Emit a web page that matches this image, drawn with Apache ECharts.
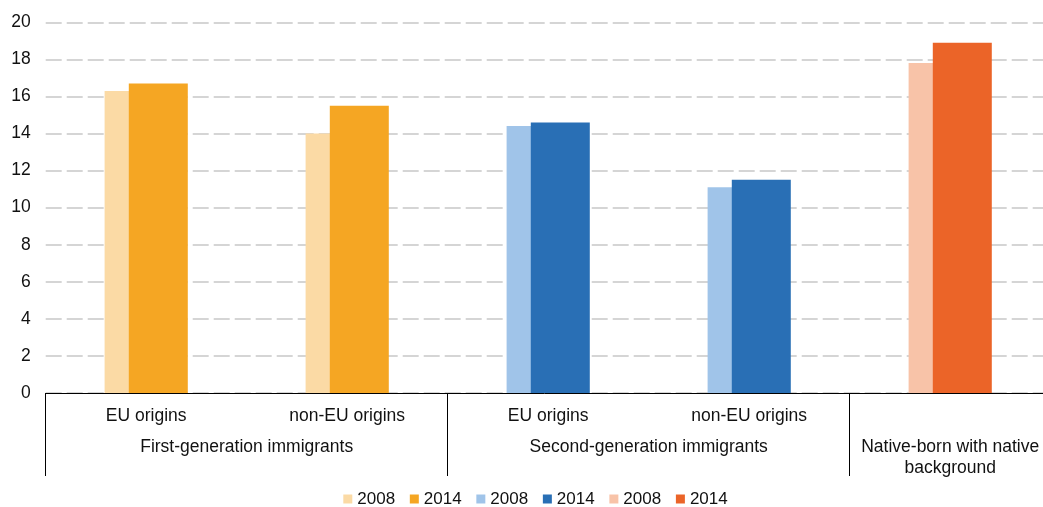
<!DOCTYPE html>
<html>
<head>
<meta charset="utf-8">
<script src="https://cdn.jsdelivr.net/npm/echarts@6/dist/echarts.min.js"></script>
<style>
html,body{margin:0;padding:0;background:#fff;}
#chart{width:1043px;height:507px;}
</style>
</head>
<body>
<div id="chart"></div>
<script>
// ---- data ----
const categories = ['EU origins', 'non-EU origins', 'EU origins', 'non-EU origins', ''];
const groupLabels = ['First-generation immigrants', 'Second-generation immigrants', 'Native-born with native\nbackground'];
const groupSizes = [2, 2, 1];
const years = ['2008', '2014'];
const values2008 = [16.3, 14.0, 14.4, 11.1, 17.8];
const values2014 = [16.7, 15.5, 14.6, 11.5, 18.9];
const yTicks = { min: 0, max: 20, interval: 2 };

// ---- styling ----
const groupColors = [
  ['#FBDAA5', '#F5A623'],
  ['#A0C4E9', '#296FB5'],
  ['#F8C3A8', '#EB6428']
];
const FONT = '"Liberation Sans", Arial, sans-serif';
const TXT = '#111';

// group membership / boundaries derived from groupSizes
const groupOf = [];
const boundaries = [0];
const centers = [];
let acc = 0;
groupSizes.forEach((n, g) => {
  for (let k = 0; k < n; k++) groupOf.push(g);
  centers.push(acc + n / 2);
  acc += n;
  boundaries.push(acc);
});

const series = [];
groupLabels.forEach((gl, g) => {
  [values2008, values2014].forEach((vals, yi) => {
    series.push({
      type: 'bar',
      name: gl + ' ' + years[yi],
      stack: 's' + years[yi],
      xAxisIndex: 0,
      barWidth: 59,
      barGap: '-59%',
      itemStyle: { color: groupColors[g][yi] },
      data: categories.map((c, i) => groupOf[i] === g ? vals[i] : '-'),
      animation: false
    });
  });
});

const chart = echarts.init(document.getElementById('chart'), null, { renderer: 'canvas' });
chart.setOption({
  backgroundColor: '#fff',
  animation: false,
  textStyle: { fontFamily: FONT },
  grid: { left: 45.7, top: 22.3, width: 1005, height: 370.7, containLabel: false, outerBoundsMode: 'none' },
  legend: {
    left: 343.3,
    top: 490.5,
    padding: 0,
    itemWidth: 9,
    itemHeight: 9,
    itemGap: 14.7,
    icon: 'rect',
    selectedMode: false,
    textStyle: { fontFamily: FONT, fontSize: 17, color: TXT },
    formatter: name => name.slice(-4)
  },
  xAxis: [
    {
      type: 'category',
      data: categories,
      position: 'bottom',
      axisLine: { show: true, lineStyle: { color: '#000', width: 1 } },
      axisTick: { show: false },
      axisLabel: { fontFamily: FONT, fontSize: 17.5, color: TXT, margin: 12.5, lineHeight: 21, interval: 0 },
      splitLine: { show: false }
    },
    {
      type: 'value',
      min: 0,
      max: categories.length,
      position: 'bottom',
      axisLine: { show: false },
      axisTick: {
        show: true,
        customValues: boundaries,
        length: 83,
        inside: false,
        lineStyle: { color: '#000', width: 1 }
      },
      axisLabel: {
        show: true,
        customValues: centers,
        formatter: v => {
          const idx = centers.findIndex(c => Math.abs(c - v) < 1e-6);
          return idx >= 0 ? groupLabels[idx] : '';
        },
        fontFamily: FONT, fontSize: 17.5, color: TXT, margin: 43.5, lineHeight: 21,
        hideOverlap: false
      },
      splitLine: { show: false }
    }
  ],
  yAxis: {
    type: 'value',
    min: yTicks.min,
    max: yTicks.max,
    interval: yTicks.interval,
    axisLine: { show: false },
    axisTick: { show: false },
    axisLabel: { fontFamily: FONT, fontSize: 17.5, color: TXT, margin: 15 },
    splitLine: { show: true, lineStyle: { color: '#C8C8C8', width: 1.5, type: [16, 5] } }
  },
  series: series
});
</script>
</body>
</html>
